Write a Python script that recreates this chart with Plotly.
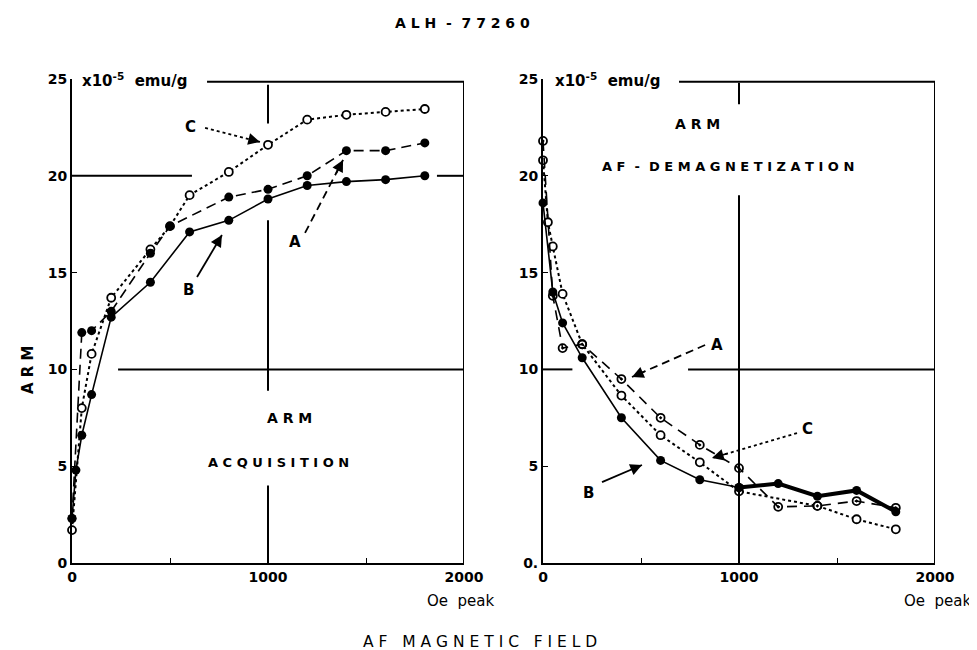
import plotly.graph_objects as go

# ---------------- data ----------------
# Left panel: ARM acquisition (x10^-5 emu/g) vs AF peak field (Oe)
acq_A_field = [0, 50, 100, 200, 400, 500, 800, 1000, 1200, 1400, 1600, 1800]
acq_A_arm = [2.3, 11.9, 12.0, 13.0, 16.0, 17.4, 18.9, 19.3, 20.0, 21.3, 21.3, 21.7]
acq_B_field = [0, 20, 50, 100, 200, 400, 600, 800, 1000, 1200, 1400, 1600, 1800]
acq_B_arm = [2.3, 4.8, 6.6, 8.7, 12.7, 14.5, 17.1, 17.7, 18.8, 19.5, 19.7, 19.8, 20.0]
acq_C_field = [0, 50, 100, 200, 400, 500, 600, 800, 1000, 1200, 1400, 1600, 1800]
acq_C_arm = [1.7, 8.0, 10.8, 13.7, 16.2, 17.4, 19.0, 20.2, 21.6, 22.9, 23.15, 23.3, 23.45]

# Right panel: ARM AF-demagnetization
dem_A_field = [0, 50, 100, 200, 400, 600, 800, 1000, 1200, 1400, 1600, 1800]
dem_A_arm = [21.8, 13.8, 11.1, 11.3, 9.5, 7.5, 6.1, 4.9, 2.9, 2.95, 3.2, 2.85]
dem_B_field = [0, 50, 100, 200, 400, 600, 800, 1000, 1200, 1400, 1600, 1800]
dem_B_arm = [18.6, 14.0, 12.4, 10.6, 7.5, 5.3, 4.3, 3.9, 4.1, 3.45, 3.75, 2.65]
dem_C_field = [0, 25, 50, 100, 200, 400, 600, 800, 1000, 1400, 1600, 1800]
dem_C_arm = [20.8, 17.6, 16.35, 13.9, 11.3, 8.65, 6.6, 5.2, 3.7, 2.95, 2.26, 1.74]

x_tickvals = [0, 500, 1000, 1500, 2000]
x_ticktext = ["0", "", "1000", "", "2000"]
y_tickvals = [0, 5, 10, 15, 20, 25]
y_ticktext_left = ["0", "5", "10", "15", "20", "25"]
y_ticktext_right = ["0.", "5", "10", "15", "20", "25"]

# ---------------- figure ----------------
OFF = 8                      # default page body margin
W, H = 977 - OFF, 650 - OFF  # figure size so the page fits the window
FONT = "DejaVu Sans"
BLACK = "black"
NB = "\u00a0"

def px(x):
    return (x - OFF) / W

def py(y):
    return 1 - (y - OFF) / H

def spaced(s):
    words = s.split(" ")
    return (NB * 3).join(NB.join(list(w)) for w in words)

fig = go.Figure()

filled = dict(symbol="circle", size=9, color=BLACK)
opened = dict(symbol="circle", size=8, color="white", line=dict(color=BLACK, width=1.8))
dotted = dict(symbol="circle-open-dot", size=8, color=BLACK, line=dict(color=BLACK, width=1.8))

def add(xs, ys, dash, width, marker, xa="x", ya="y", mode="lines+markers"):
    fig.add_trace(go.Scatter(x=xs, y=ys, mode=mode, xaxis=xa, yaxis=ya,
                             line=dict(color=BLACK, width=width, dash=dash),
                             marker=marker, cliponaxis=False, hoverinfo="x+y"))

# left panel
add(acq_C_field, acq_C_arm, "dot", 2, opened)
add(acq_A_field, acq_A_arm, "10px,6px", 1.6, filled)
add(acq_B_field, acq_B_arm, "solid", 1.6, filled)

# right panel
add(dem_C_field, dem_C_arm, "dot", 2, opened, "x2", "y2")
add(dem_A_field, dem_A_arm, "10px,7px", 1.6, dotted, "x2", "y2")
add(dem_B_field[:8], dem_B_arm[:8], "solid", 1.6, filled, "x2", "y2")
add(dem_B_field[7:], dem_B_arm[7:], "solid", 4, filled, "x2", "y2")

axis_common = dict(showline=True, linecolor=BLACK, linewidth=2, showgrid=False,
                   zeroline=False, ticks="inside", ticklen=5, tickcolor=BLACK,
                   automargin=False,
                   tickfont=dict(family=FONT, size=14, color=BLACK, weight="bold"))

ydom = [py(563), py(79)]
fig.update_layout(
    width=W, height=H, margin=dict(l=0, r=0, t=0, b=0, autoexpand=False),
    paper_bgcolor="white", plot_bgcolor="white", showlegend=False,
    xaxis=dict(domain=[px(72), px(464)], range=[0, 2000], anchor="y",
               tickvals=x_tickvals, ticktext=x_ticktext, **axis_common),
    yaxis=dict(domain=ydom, range=[0, 25], anchor="x",
               tickvals=y_tickvals, ticktext=y_ticktext_left, **axis_common),
    xaxis2=dict(domain=[px(543), px(935)], range=[0, 2000], anchor="y2",
                tickvals=x_tickvals, ticktext=x_ticktext, **axis_common),
    yaxis2=dict(domain=ydom, range=[0, 25], anchor="x2",
                tickvals=y_tickvals, ticktext=y_ticktext_right, **axis_common),
)

# frame / cross lines (broken by text)
TOP = 24.86
def seg(x0, y0, x1, y1, xr="x", yr="y", width=2, dash="solid"):
    fig.add_shape(type="line", x0=x0, y0=y0, x1=x1, y1=y1, xref=xr, yref=yr,
                  line=dict(color=BLACK, width=width, dash=dash))

# left
seg(689, TOP, 2000, TOP)
seg(2000, 0, 2000, TOP)
seg(0, 20, 612, 20)
seg(1862, 20, 2000, 20)
seg(235, 10, 2000, 10)
seg(1000, 22.7, 1000, 24.7)
seg(1000, 8.9, 1000, 17.7)
seg(1000, 0, 1000, 4.0)
# right
seg(694, TOP, 2000, TOP, "x2", "y2")
seg(2000, 0, 2000, TOP, "x2", "y2")
seg(1000, 23.7, 1000, 24.8, "x2", "y2")
seg(1000, 0, 1000, 19.0, "x2", "y2")
seg(0, 10, 150, 10, "x2", "y2")
seg(740, 10, 2000, 10, "x2", "y2")

def text(t, x, y, xr="paper", yr="paper", size=14, bold=True, angle=0, xanchor="center"):
    fig.add_annotation(text=f"<b>{t}</b>" if bold else t, x=x, y=y, xref=xr, yref=yr,
                       showarrow=False, textangle=angle, xanchor=xanchor, yanchor="middle",
                       font=dict(family=FONT, size=size, color=BLACK))

def arrow(x0, y0, x1, y1, dash, xr="x", yr="y"):
    seg(x0, y0, x1, y1, xr, yr, width=1.8, dash=dash)
    fx = x0 + (x1 - x0) * 0.8
    fy = y0 + (y1 - y0) * 0.8
    fig.add_annotation(x=x1, y=y1, ax=fx, ay=fy, xref=xr, yref=yr, axref=xr, ayref=yr,
                       text="", showarrow=True, arrowhead=2, arrowsize=1.3,
                       arrowwidth=1.8, arrowcolor=BLACK)

# left arrows & labels
text("C", 607, 22.5, "x", "y", size=15)
arrow(679, 22.47, 959, 21.75, "dot")
text("B", 592, 14.1, "x", "y", size=15)
arrow(638, 14.77, 765, 16.94, "solid")
text("A", 1138, 16.6, "x", "y", size=15)
arrow(1189, 17.05, 1383, 20.82, "8px,5px")
# right arrows & labels
text("A", 888, 11.26, "x2", "y2", size=15)
arrow(827, 11.26, 454, 9.61, "8px,5px", "x2", "y2")
text("C", 1347, 6.92, "x2", "y2", size=15)
arrow(1296, 6.71, 862, 5.42, "dot", "x2", "y2")
text("B", 230, 3.62, "x2", "y2", size=15)
arrow(301, 4.18, 505, 5.06, "solid", "x2", "y2")

# panel texts
text(spaced("ARM"), 1112, 7.49, "x", "y", size=14)
text(spaced("ACQUISITION"), 1051, 5.17, "x", "y", size=13)
text(spaced("ARM"), 786, 22.68, "x2", "y2", size=14)
text(NB.join(list("AF")) + NB * 2 + "-" + NB * 2 + NB.join(list("DEMAGNETIZATION")),
     944, 20.5, "x2", "y2", size=13)

# units labels
text("x10<sup>-5</sup>" + NB * 2 + "emu/g", px(80), py(80), size=15, xanchor="left")
text("x10<sup>-5</sup>" + NB * 2 + "emu/g", px(553), py(80), size=15, xanchor="left")
text("Oe" + NB * 2 + "peak", px(461), py(601), size=15, bold=False)
text("Oe" + NB * 2 + "peak", px(938), py(601), size=15, bold=False)

# titles
text(spaced("ALH") + NB * 2 + "-" + NB * 2 + spaced("77260"), px(462), py(23), size=14)
text(spaced("AF MAGNETIC FIELD"), px(480), py(642), size=15.5, bold=False)
text(spaced("ARM"), px(28), py(370), size=15, angle=-90)

fig.write_html("out.html")
